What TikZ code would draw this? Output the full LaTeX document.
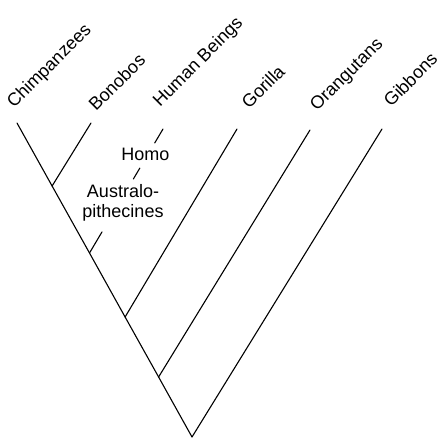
\documentclass[tikz,border=0pt]{standalone}
\usepackage{fontspec}
\setmainfont{Liberation Sans}
\usetikzlibrary{calc}
\begin{document}
\begin{tikzpicture}[x=1pt, y=1pt,
  branch/.style={draw, line width=1.1pt, line cap=round},
  taxon/.style={rotate=45, anchor=base west, inner sep=0pt, font=\fontsize{18}{20}\selectfont},
  lineage/.style={inner sep=0pt, anchor=base, font=\fontsize{18}{20}\selectfont}]
\useasboundingbox (0,0) rectangle (438,-439);

% tips of the branches
\coordinate (tchimp) at (17,-123);
\coordinate (tbon)   at (91,-123);
\coordinate (thum)   at (163,-129);
\coordinate (tgor)   at (237,-129);
\coordinate (torang) at (310,-130);
\coordinate (tgib)   at (382,-129);

% branching points
\coordinate (root)   at (192,-437);
\coordinate (jorang) at (158.6,-377);
\coordinate (jgor)   at (125.1,-317);
\coordinate (jaus)   at (89.5,-253);
\coordinate (jbon)   at (52.1,-186);

% main stem and side branches
\draw[branch] (root) -- (jorang) -- (jgor) -- (jaus) -- (jbon) -- (tchimp);
\draw[branch] (jbon) -- (tbon);
\draw[branch] (jgor) -- (tgor);
\draw[branch] (jorang) -- (torang);
\draw[branch] (root) -- (tgib);

% human lineage, broken by the labels
\draw[branch] (jaus) -- ($(jaus)!0.17!(thum)$);
\draw[branch] ($(jaus)!0.597!(thum)$) -- ($(jaus)!0.685!(thum)$);
\draw[branch] ($(jaus)!0.887!(thum)$) -- (thum);

\node[lineage] (homo) at (145.5,-160) {Homo};
\node[lineage] (aus1) at (123,-197) {Australo-};
\node[lineage] (aus2) at (123,-217) {pithecines};

% taxa names
\node[taxon] (lchimp) at (14,-109)  {Chimpanzees};
\node[taxon] (lbon)   at (96,-112)  {Bonobos};
\node[taxon] (lhum)   at (160,-108) {Human Beings};
\node[taxon] (lgor)   at (249,-110) {Gorilla};
\node[taxon] (lorang) at (317,-112) {Orangutans};
\node[taxon] (lgib)   at (391,-108) {Gibbons};
\end{tikzpicture}
\end{document}
